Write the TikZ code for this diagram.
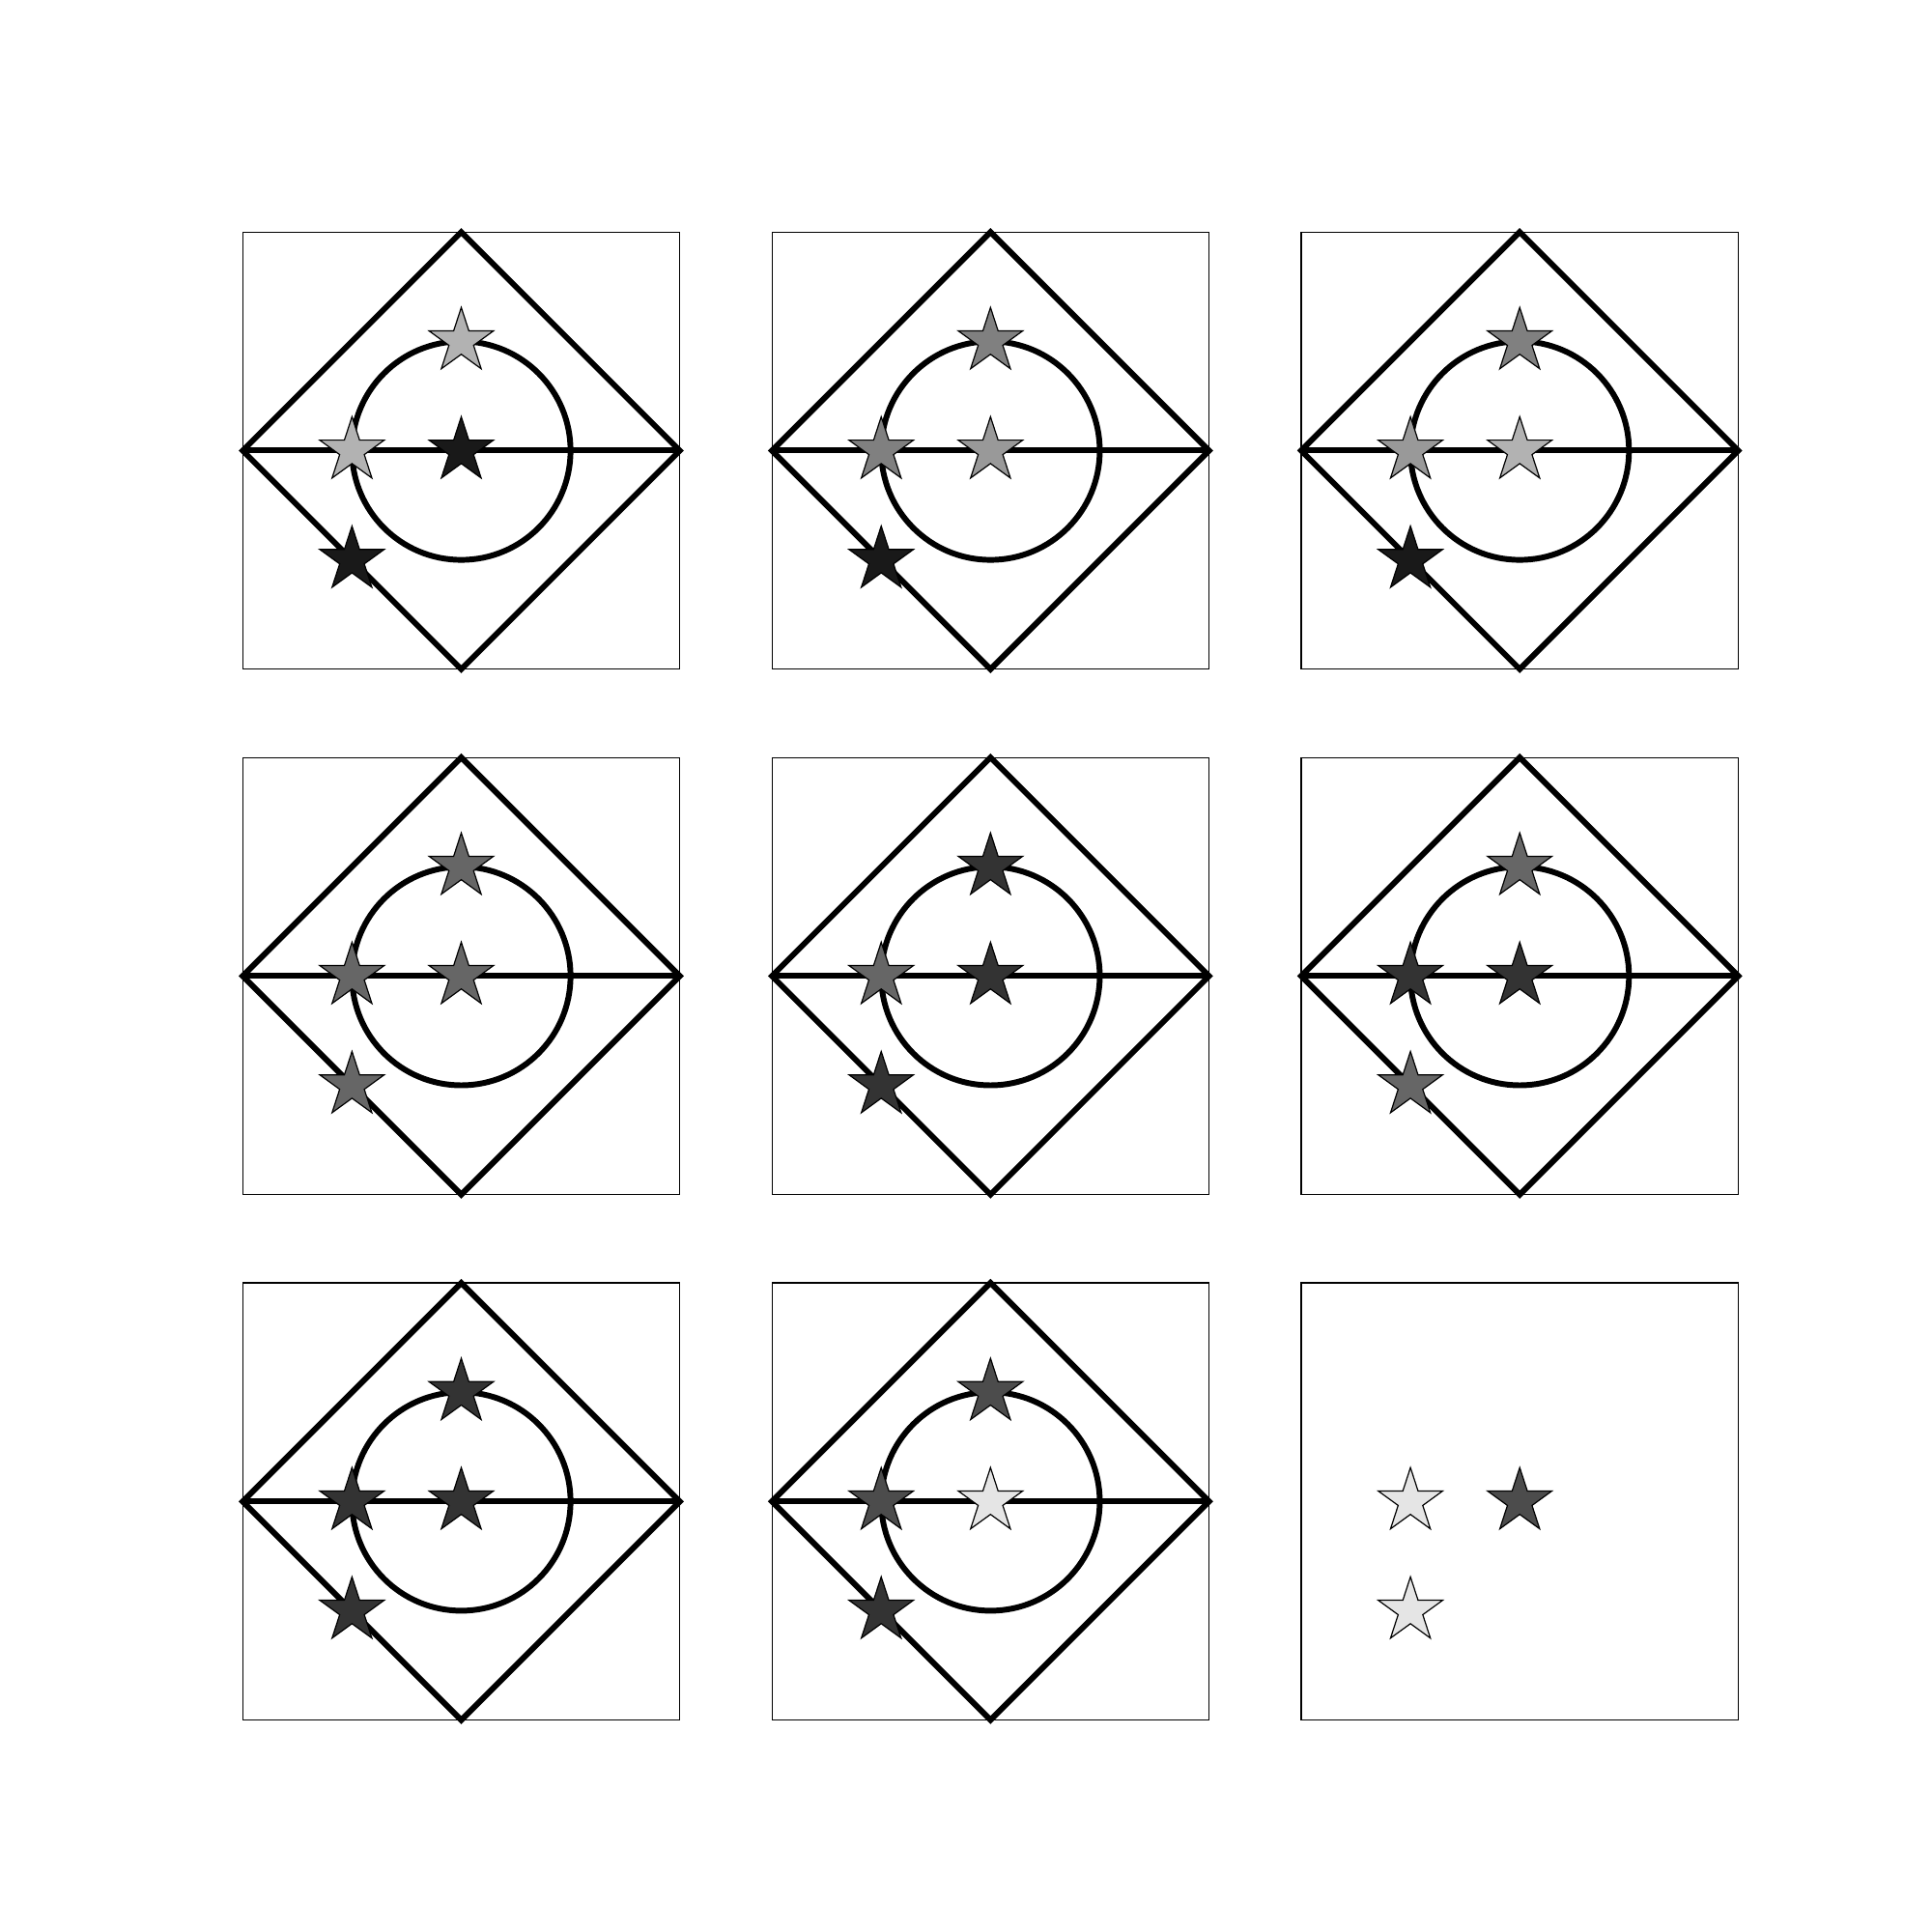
\documentclass[tikz,border=0pt]{standalone}
\usepackage{xcolor}
\usepackage{tikz}
\usetikzlibrary{shapes.geometric}
\definecolor{gris1}{gray}{0.10}
\definecolor{gris2}{gray}{0.20}
\definecolor{gris3}{gray}{0.30}
\definecolor{gris4}{gray}{0.40}
\definecolor{gris5}{gray}{0.50}
\definecolor{gris6}{gray}{0.60}
\definecolor{gris7}{gray}{0.70}
\definecolor{gris9}{gray}{0.90}

\begin{document}
\begin{tikzpicture}[x=1cm, y=1cm,
  cadre/.style={draw=black, line width=0.3pt},
  trait/.style={draw=black, line width=1.5pt, line join=miter},
  etoile/.style={star, star points=5, star point ratio=2.618, minimum size=0.62cm,
                 inner sep=0pt, outer sep=0pt, draw=black, line width=0.3pt, fill=#1}]

\useasboundingbox (0,0) rectangle (17.68,17.68);

% ── les huit cases complètes : losange, cercle, quatre étoiles ──
\foreach \i/\col/\row/\ch/\cg/\cc/\cb in {
    1/0/0/gris7/gris7/gris1/gris1, 2/1/0/gris5/gris5/gris6/gris1, 3/2/0/gris5/gris6/gris7/gris1,
    4/0/1/gris4/gris4/gris4/gris4, 5/1/1/gris2/gris4/gris2/gris2, 6/2/1/gris4/gris2/gris2/gris4,
    7/0/2/gris2/gris2/gris2/gris2, 8/1/2/gris3/gris3/gris9/gris2}{
  \begin{scope}[shift={({4.221+\col*4.843},{13.556-\row*4.808})}]
    \draw[cadre] (-2,-2) rectangle (2,2);
    \draw[trait] (-2,0) -- (0,2) -- (2,0) -- (0,-2) -- cycle;
    \draw[trait] (-2,0) -- (2,0);
    \draw[trait] (0,0) circle (1);
    \node[etoile=\ch] (haut\i) at (0,1) {};
    \node[etoile=\cg] (gauche\i) at (-1,0) {};
    \node[etoile=\cc] (centre\i) at (0,0) {};
    \node[etoile=\cb] (bas\i) at (-1,-1) {};
  \end{scope}
}

% ── la neuvième case : trois étoiles seules ──
\begin{scope}[shift={({4.221+2*4.843},{13.556-2*4.808})}]
  \draw[cadre] (-2,-2) rectangle (2,2);
  \node[etoile=gris9] (gauche9) at (-1,0) {};
  \node[etoile=gris3] (centre9) at (0,0) {};
  \node[etoile=gris9] (bas9) at (-1,-1) {};
\end{scope}

\end{tikzpicture}
\end{document}
